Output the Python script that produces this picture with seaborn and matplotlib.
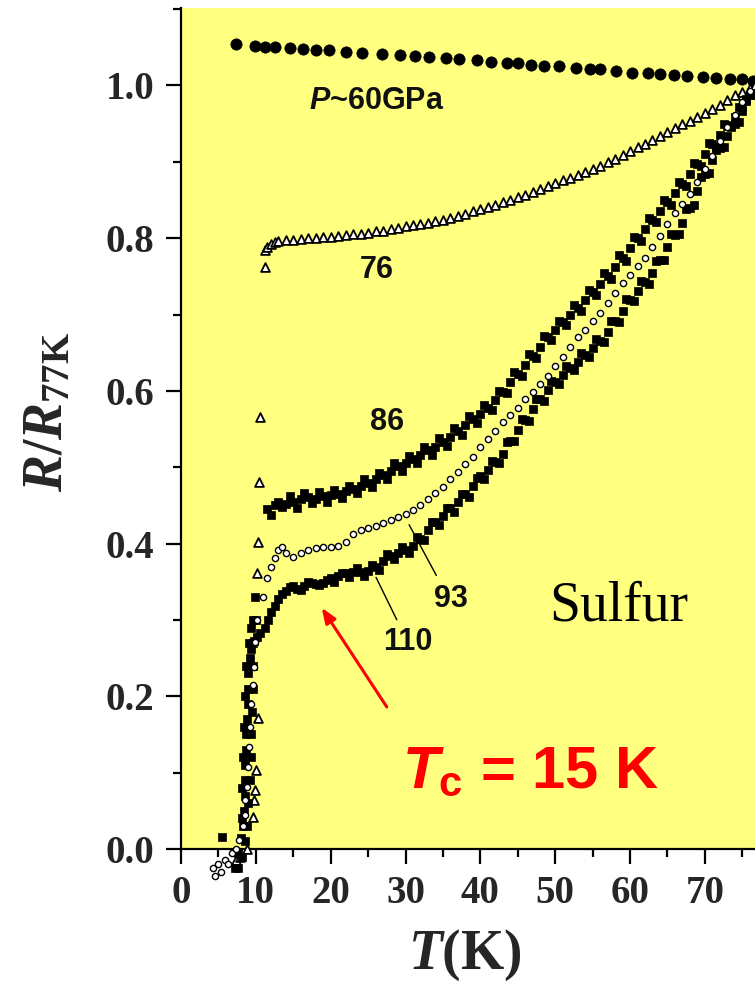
import matplotlib
matplotlib.use("Agg")
import matplotlib.pyplot as plt
from matplotlib.ticker import MultipleLocator, FormatStrFormatter
import pandas as pd
import seaborn as sns

# ---------------- data: R/R(77K) versus T (K) ----------------
# P ~ 60 GPa (no transition)
t_60 = [7.3, 9.9, 11.2, 12.6, 14.5, 16.3, 18.0, 19.8, 22.1, 24.2, 26.8, 29.2, 31.3,
        33.2, 35.4, 37.2, 39.5, 41.4, 43.5, 45.0, 46.8, 48.5, 50.5, 52.8, 54.6, 56.0,
        58.1, 60.3, 62.4, 64.0, 65.9, 67.6, 69.7, 71.5, 73.3, 75.0, 76.4]
r_60 = [1.054, 1.052, 1.051, 1.051, 1.049, 1.048, 1.047, 1.046, 1.044, 1.043, 1.041,
        1.040, 1.038, 1.037, 1.036, 1.035, 1.033, 1.031, 1.030, 1.029, 1.027, 1.026,
        1.025, 1.023, 1.021, 1.021, 1.019, 1.017, 1.016, 1.015, 1.014, 1.013, 1.011,
        1.010, 1.009, 1.008, 1.006]

# 76 GPa
t_76 = [7.3, 7.9, 8.8, 9.6, 9.8, 9.9, 10.0, 10.3, 10.15, 10.3, 10.4, 10.5, 11.2, 11.2,
        11.5, 12.0, 12.5, 13, 14, 15, 16, 17, 18, 19, 20, 21, 22, 23, 24, 25, 26, 27,
        28, 29, 30, 31, 32, 33, 34, 35, 36, 37, 38, 39, 40, 41, 42, 43, 44, 45, 46, 47,
        48, 49, 50, 51, 52, 53, 54, 55, 56, 57, 58, 59, 60, 61, 62, 63, 64, 65, 66, 67,
        68, 69, 70, 71, 72, 73, 74, 75, 76, 76.7]
r_76 = [-0.015, -0.01, 0.0, 0.042, 0.064, 0.077, 0.103, 0.171, 0.361, 0.402, 0.481,
        0.566, 0.762, 0.784,
        0.788, 0.793, 0.795, 0.796, 0.797, 0.798, 0.799, 0.800, 0.800, 0.801, 0.802,
        0.803, 0.804, 0.805, 0.806, 0.807, 0.809, 0.810, 0.812, 0.814, 0.816, 0.817,
        0.819, 0.820, 0.822, 0.824, 0.826, 0.829, 0.832, 0.835, 0.838, 0.841, 0.844,
        0.847, 0.850, 0.854, 0.857, 0.861, 0.864, 0.868, 0.872, 0.876, 0.879, 0.883,
        0.887, 0.891, 0.895, 0.900, 0.904, 0.909, 0.914, 0.919, 0.924, 0.929, 0.934,
        0.939, 0.944, 0.949, 0.954, 0.959, 0.964, 0.969, 0.975, 0.981, 0.987, 0.992,
        0.997, 1.000]

# 86 GPa: transition, first sweep, second sweep
t_86 = [7.6, 8.1, 8.5, 8.8, 9.0, 9.2, 9.3, 9.4, 9.5, 9.6, 9.6, 9.6, 9.6, 9.9,
        11.5, 12, 12.5, 13, 14, 15, 16, 17, 18, 19, 20, 21, 22, 23, 24, 25, 26, 27,
        28, 29, 30, 31, 32, 33, 34, 35, 36, 37, 38, 39, 40, 41, 42, 43, 44, 45, 46, 47,
        48, 49, 50, 51, 52, 53, 54, 55, 56, 57, 58, 59, 60, 61, 62, 63, 64, 65, 66, 67,
        68, 69, 70, 71, 72, 73, 74, 75, 76,
        13.5, 14.5, 15.5, 16.5, 17.5, 18.5, 19.5, 20.5, 21.5, 22.5, 23.5, 24.5, 25.5,
        26.5, 27.5, 28.5, 29.5, 30.5, 31.5, 32.5, 33.5, 34.5, 35.5, 36.5, 37.5, 38.5,
        39.5, 40.5, 41.5, 42.5, 43.5, 44.5, 45.5, 46.5, 47.5, 48.5, 49.5, 50.5, 51.5,
        52.5, 53.5, 54.5, 55.5, 56.5, 57.5, 58.5, 59.5, 60.5, 61.5, 62.5, 63.5, 64.5,
        65.5, 66.5, 67.5, 68.5, 69.5, 70.5, 71.5, 72.5, 73.5, 74.5, 75.5]
r_86 = [-0.025, -0.01, 0.01, 0.03, 0.06, 0.09, 0.12, 0.15, 0.18, 0.21, 0.24, 0.27,
        0.30, 0.33,
        0.445, 0.438, 0.450, 0.455, 0.452, 0.455, 0.458, 0.461, 0.459, 0.462, 0.463,
        0.465, 0.469, 0.472, 0.476, 0.480, 0.485, 0.490, 0.495, 0.501, 0.506, 0.511,
        0.516, 0.522, 0.527, 0.533, 0.540, 0.547, 0.555, 0.563, 0.570, 0.578, 0.588,
        0.599, 0.611, 0.622, 0.634, 0.646, 0.658, 0.670, 0.680, 0.690, 0.700, 0.709,
        0.719, 0.729, 0.740, 0.751, 0.762, 0.774, 0.787, 0.800, 0.812, 0.824, 0.836,
        0.848, 0.859, 0.871, 0.884, 0.897, 0.910, 0.923, 0.935, 0.947, 0.959, 0.972,
        0.988,
        0.448, 0.462, 0.447, 0.466, 0.453, 0.468, 0.455, 0.470, 0.460, 0.476, 0.466,
        0.484, 0.474, 0.493, 0.484, 0.505, 0.495, 0.515, 0.505, 0.526, 0.516, 0.538,
        0.528, 0.551, 0.542, 0.567, 0.558, 0.582, 0.575, 0.600, 0.597, 0.625, 0.620,
        0.648, 0.643, 0.672, 0.667, 0.692, 0.686, 0.712, 0.705, 0.732, 0.725, 0.754,
        0.747, 0.778, 0.770, 0.802, 0.796, 0.826, 0.821, 0.850, 0.843, 0.873, 0.868,
        0.899, 0.895, 0.925, 0.920, 0.950, 0.945, 0.972, 0.982]

# 93 GPa
t_93 = [4.3, 4.6, 5.0, 5.4, 5.9, 6.3, 6.8, 7.3, 7.8, 8.3, 8.5, 8.6, 8.8, 9.0, 9.1,
        9.2, 9.4, 9.6, 9.75, 9.9, 10.2,
        11, 11.5, 12, 12.5, 13, 13.5, 14, 15, 16, 17, 18, 19, 20, 21, 22, 23, 24, 25,
        26, 27, 28, 29, 30, 31, 32, 33, 34, 35, 36, 37, 38, 39, 40, 41, 42, 43, 44, 45,
        46, 47, 48, 49, 50, 51, 52, 53, 54, 55, 56, 57, 58, 59, 60, 61, 62, 63, 64, 65,
        66, 67, 68, 69, 70, 71, 72, 73, 74, 75, 76]
r_93 = [-0.025, -0.035, -0.02, -0.03, -0.015, -0.02, -0.005, 0.0, 0.012, 0.03, 0.045,
        0.064, 0.081, 0.107, 0.134, 0.16, 0.19, 0.215, 0.238, 0.271, 0.30,
        0.330, 0.355, 0.369, 0.381, 0.392, 0.396, 0.388, 0.383, 0.388, 0.392, 0.394,
        0.396, 0.395, 0.397, 0.402, 0.412, 0.418, 0.420, 0.423, 0.427, 0.431, 0.435,
        0.439, 0.444, 0.451, 0.458, 0.466, 0.474, 0.484, 0.494, 0.504, 0.513, 0.526,
        0.537, 0.548, 0.559, 0.568, 0.578, 0.589, 0.599, 0.609, 0.619, 0.632, 0.645,
        0.658, 0.670, 0.680, 0.691, 0.702, 0.715, 0.728, 0.741, 0.752, 0.763, 0.774,
        0.788, 0.803, 0.819, 0.833, 0.845, 0.858, 0.874, 0.890, 0.908, 0.927, 0.946,
        0.962, 0.979, 0.993]

# 110 GPa: transition, first sweep, second sweep
t_110 = [5.5, 7.2, 7.6, 8.0, 8.3, 8.4, 8.5, 8.6, 8.6, 8.7, 8.75, 8.8, 8.9, 8.95, 9.0,
         9.2, 9.4, 9.7, 10.1, 10.6,
         8.1, 8.2, 8.3, 8.4, 8.5, 8.7, 9.1, 9.3, 10.0,
         11.2, 11.6, 12.0, 12.5, 13.0, 13.5, 14, 14.5, 15, 15.5, 16, 16.5, 17, 17.5, 18,
         18.5, 19, 19.5, 20, 21, 22, 23, 24, 25, 26, 27, 28, 29, 30, 31, 32, 33, 34, 35,
         36, 37, 38, 39, 40, 41, 42, 43, 44, 45, 46, 47, 48, 49, 50, 51, 52, 53, 54, 55,
         56, 57, 58, 59, 60, 61, 62, 63, 64, 65, 66, 67, 68, 69, 70, 71, 72, 73, 74, 75,
         76,
         20.5, 21.5, 22.5, 23.5, 24.5, 25.5, 26.5, 27.5, 28.5, 29.5, 30.5, 31.5, 32.5,
         33.5, 34.5, 35.5, 36.5, 37.5, 38.5, 39.5, 40.5, 41.5, 42.5, 43.5, 44.5, 45.5,
         46.5, 47.5, 48.5, 49.5, 50.5, 51.5, 52.5, 53.5, 54.5, 55.5, 56.5, 57.5, 58.5,
         59.5, 60.5, 61.5, 62.5, 63.5, 64.5, 65.5, 66.5, 67.5, 68.5, 69.5, 70.5, 71.5,
         72.5, 73.5, 74.5, 75.5]
r_110 = [0.016, -0.025, -0.005, 0.015, 0.03, 0.05, 0.07, 0.09, 0.11, 0.13, 0.15, 0.17,
         0.19, 0.21, 0.23, 0.25, 0.262, 0.272, 0.278, 0.283,
         0.04, 0.08, 0.12, 0.16, 0.20, 0.24, 0.27, 0.29, 0.30,
         0.290, 0.300, 0.310, 0.318, 0.327, 0.334, 0.338, 0.343, 0.344, 0.341, 0.339,
         0.344, 0.350, 0.349, 0.347, 0.346, 0.349, 0.352, 0.355, 0.357, 0.361, 0.363,
         0.363, 0.364, 0.370, 0.377, 0.384, 0.388, 0.392, 0.397, 0.406, 0.418, 0.428,
         0.436, 0.446, 0.455, 0.465, 0.475, 0.488, 0.497, 0.507, 0.518, 0.535, 0.549,
         0.562, 0.576, 0.589, 0.601, 0.612, 0.621, 0.630, 0.638, 0.647, 0.656, 0.666,
         0.677, 0.691, 0.705, 0.719, 0.731, 0.742, 0.754, 0.771, 0.789, 0.804, 0.820,
         0.840, 0.862, 0.884, 0.902, 0.918, 0.934, 0.950, 0.967, 0.988,
         0.350, 0.362, 0.356, 0.368, 0.358, 0.372, 0.366, 0.386, 0.380, 0.395, 0.388,
         0.408, 0.405, 0.428, 0.424, 0.446, 0.442, 0.465, 0.461, 0.486, 0.484, 0.508,
         0.505, 0.533, 0.535, 0.563, 0.561, 0.590, 0.587, 0.613, 0.609, 0.632, 0.627,
         0.650, 0.645, 0.668, 0.664, 0.691, 0.690, 0.720, 0.718, 0.744, 0.740, 0.770,
         0.772, 0.805, 0.806, 0.838, 0.843, 0.880, 0.886, 0.915, 0.920, 0.948, 0.952,
         0.980]

x_ticks = [0, 10, 20, 30, 40, 50, 60, 70]
y_ticks = [0.0, 0.2, 0.4, 0.6, 0.8, 1.0]

# ---------------- style ----------------
sns.set_style("ticks")
plt.rcParams["font.family"] = ["Liberation Serif", "DejaVu Serif"]
plt.rcParams["mathtext.fontset"] = "custom"
plt.rcParams["mathtext.it"] = "Liberation Serif:italic:bold"
plt.rcParams["mathtext.bf"] = "Liberation Serif:bold"
plt.rcParams["mathtext.rm"] = "Liberation Serif:bold"
plt.rcParams["mathtext.sf"] = "Liberation Sans:italic:bold"
plt.rcParams["mathtext.cal"] = "Liberation Sans:bold"

fig = plt.figure(figsize=(7.55, 9.82), dpi=100)
ax = fig.add_axes([181 / 755, 133 / 982, 1 - 181 / 755, 841 / 982])
ax.set_facecolor("#FFFF80")

def frame(t, r):
    return pd.DataFrame({"T": t, "R": r})

common = dict(ax=ax, x="T", y="R", legend=False, clip_on=False, zorder=3)
sns.scatterplot(data=frame(t_60, r_60), marker="o", s=66, color="black",
                edgecolor="black", linewidth=0.5, **common)
sns.scatterplot(data=frame(t_76, r_76), marker="^", s=40, color="white",
                edgecolor="black", linewidth=1.3, **common)
sns.scatterplot(data=frame(t_86, r_86), marker="s", s=30, color="black",
                edgecolor="black", linewidth=0.5, **common)
sns.scatterplot(data=frame(t_110, r_110), marker="s", s=30, color="black",
                edgecolor="black", linewidth=0.5, **common)
sns.scatterplot(data=frame(t_93, r_93), marker="o", s=20, color="white",
                edgecolor="black", linewidth=1.0, **common)

ax.set_xlim(0, 76.7)
ax.set_ylim(0, 1.1015)
ax.set_xticks(x_ticks)
ax.set_yticks(y_ticks)
ax.xaxis.set_minor_locator(MultipleLocator(5))
ax.yaxis.set_minor_locator(MultipleLocator(0.1))
ax.yaxis.set_major_formatter(FormatStrFormatter("%.1f"))
ax.tick_params(which="major", direction="out", length=11, width=1.6, pad=8,
               labelsize=28, color="black")
ax.tick_params(which="minor", direction="out", length=6, width=1.6, color="black")
for lab in ax.get_xticklabels() + ax.get_yticklabels():
    lab.set_fontweight("bold")
for side in ("top", "right"):
    ax.spines[side].set_visible(False)
for side in ("left", "bottom"):
    ax.spines[side].set_linewidth(1.6)
    ax.spines[side].set_color("black")
ax.set_xlabel("")
ax.set_ylabel("")

# axis titles
fig.text(48.5 / 755, 1 - 412 / 982, r"$\mathit{R/R}_{\mathbf{77K}}$", rotation=90,
         ha="center", va="center", fontsize=40)
fig.text(465 / 755, 1 - 955 / 982, r"$\mathit{T}$(K)", ha="center", va="center",
         fontsize=40, fontweight="bold")

# pressure labels
sans = dict(family=["Liberation Sans", "DejaVu Sans"], fontweight="bold", fontsize=22,
            ha="center", va="center", color="#111111")
ax.text(26.2, 0.980, r"$\mathsf{P}$~60GPa", **sans)
ax.text(26.2, 0.758, "76", **sans)
ax.text(27.5, 0.559, "86", **sans)
ax.text(36.1, 0.327, "93", **sans)
ax.text(30.3, 0.271, "110", **sans)

ax.annotate("", xy=(30.3, 0.428), xytext=(34.3, 0.355),
            arrowprops=dict(arrowstyle="-", color="black", lw=1.0))
ax.annotate("", xy=(25.9, 0.359), xytext=(29.0, 0.297),
            arrowprops=dict(arrowstyle="-", color="black", lw=1.0))

ax.text(58.5, 0.318, "Sulfur", fontsize=40, ha="center", va="center",
        family=["Liberation Serif"], color="black")

# transition marker
ax.annotate("", xy=(18.8, 0.316), xytext=(27.5, 0.186),
            arrowprops=dict(arrowstyle="-|>,head_length=0.9,head_width=0.35",
                            color="red", lw=2.2, shrinkA=0, shrinkB=0))
ax.text(29.5, 0.080, r"$\mathsf{T}_{\mathcal{c}}$ = 15 K", color="red", fontsize=43,
        family=["Liberation Sans", "DejaVu Sans"], fontweight="bold",
        ha="left", va="baseline")

fig.savefig("out.png", dpi=100, facecolor="white")
